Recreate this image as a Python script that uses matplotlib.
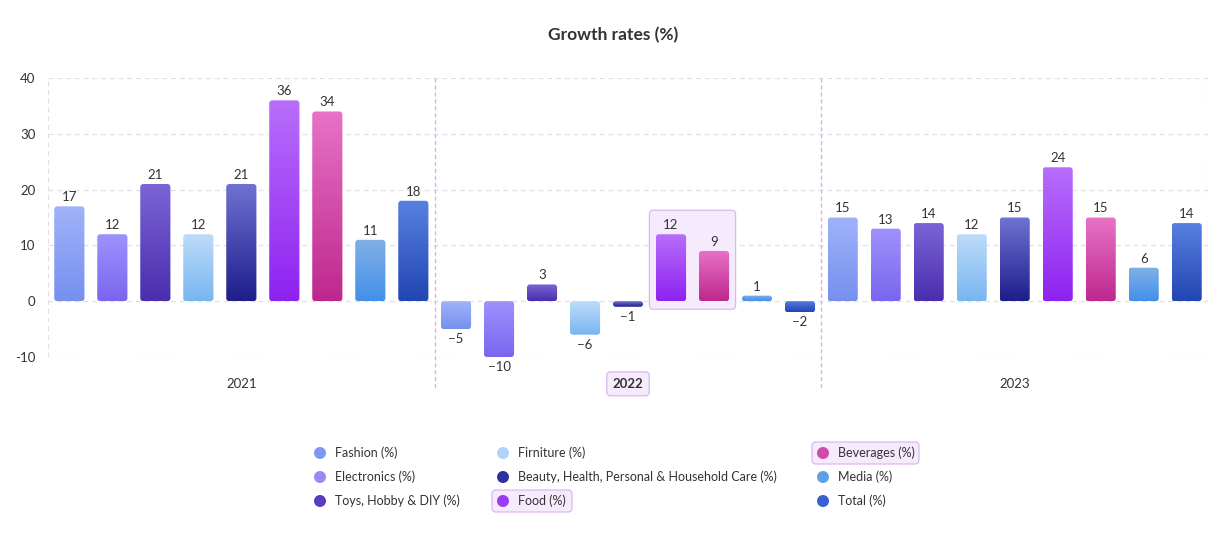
import matplotlib
matplotlib.use("Agg")
import matplotlib.pyplot as plt
import numpy as np
from matplotlib.patches import FancyBboxPatch, Ellipse
from matplotlib.colors import to_rgba

plt.rcParams['font.family'] = ['Lato', 'DejaVu Sans']

years = ["2021", "2022", "2023"]
series = ["Fashion (%)", "Electronics (%)", "Toys, Hobby & DIY (%)", "Firniture (%)",
          "Beauty, Health, Personal & Household Care (%)", "Food (%)", "Beverages (%)",
          "Media (%)", "Total (%)"]
values = [
    [17, -5, 15],
    [12, -10, 13],
    [21, 3, 14],
    [12, -6, 12],
    [21, -1, 15],
    [36, 12, 24],
    [34, 9, 15],
    [11, 1, 6],
    [18, -2, 14],
]
top_colors = ["#a0b2fa", "#9e92fd", "#7b64d6", "#bddcf9", "#6f72d2", "#b86efc", "#e772c6", "#82b0e6", "#5880e2"]
bot_colors = ["#7690ee", "#7a66ee", "#4a2eae", "#78b6f0", "#1e1e8c", "#8e22f0", "#be288e", "#4390ea", "#2246b2"]
legend_colors = ["#7e98f0", "#9888f8", "#5a3cc0", "#b0d4f8", "#2e30a0", "#9b3cf4", "#d04aa8", "#5ca0e8", "#3a60d0"]
yticks = [-10, 0, 10, 20, 30, 40]

W, H = 1227, 542
fig = plt.figure(figsize=(W / 100, H / 100), dpi=100)
ax_l, ax_r, ax_t, ax_b = 48, 1208, 78, 357
ax = fig.add_axes([ax_l / W, 1 - ax_b / H, (ax_r - ax_l) / W, (ax_b - ax_t) / H])
ax.set_xlim(-0.5, 2.5)
ax.set_ylim(-10, 40)

px_x = 3 / (ax_r - ax_l)
px_y = 50 / (ax_b - ax_t)
asp = px_y / px_x

for s in ax.spines.values():
    s.set_visible(False)
ax.set_yticks(yticks)
ax.set_yticklabels([str(v) for v in yticks])
ax.tick_params(axis='y', length=0, pad=9, labelsize=9.5, labelcolor="#333333")
ax.tick_params(axis='x', length=0, pad=15, labelsize=9.5, labelcolor="#333333")
for v in yticks:
    ax.axhline(v, color="#e2e0e6", lw=0.9, ls=(0, (4, 3)), zorder=0)
for xv in (-0.5, 2.5):
    ax.axvline(xv, color="#e2e0e6", lw=0.9, ls=(0, (4, 3)), zorder=0)

ax.set_xticks(range(len(years)))
ax.set_xticklabels(years)
for i, lab in enumerate(ax.get_xticklabels()):
    if i == 1:
        lab.set_fontweight("bold")
        lab.set_bbox(dict(boxstyle="round,pad=0.45,rounding_size=0.3", fc="#f6eafd", ec="#dcb8f0", lw=0.9))

# dividers
for xv in (0.5, 1.5):
    ax.plot([xv, xv], [40, -10 - 31 * px_y], color="#d9b0ee", lw=1.0, ls=(0, (3, 2)), clip_on=False, zorder=1)

spacing = 0.1112
bw = 0.078

# highlight box around Food and Beverages in 2022
hx0 = 1 + (5 - 4) * spacing - bw / 2 - 6.5 * px_x
hx1 = 1 + (6 - 4) * spacing + bw / 2 + 6.5 * px_x
hbox = FancyBboxPatch((hx0, -1.45), hx1 - hx0, 17.75,
                      boxstyle=f"round,pad=0,rounding_size={4 * px_x}", mutation_aspect=asp,
                      fc="#f6eafd", ec="#dcb8f0", lw=0.9, zorder=1)
ax.add_patch(hbox)

for si, name in enumerate(series):
    c_top = np.array(to_rgba(top_colors[si]))
    c_bot = np.array(to_rgba(bot_colors[si]))
    grad = np.linspace(0, 1, 64)[:, None, None]
    img = c_top[None, None, :] * (1 - grad) + c_bot[None, None, :] * grad
    for yi, v in enumerate(values[si]):
        xc = yi + (si - 4) * spacing
        x0 = xc - bw / 2
        y0 = min(0, v)
        h = abs(v)
        r = min(3 * px_x, bw / 2, (h / asp) / 2)
        patch = FancyBboxPatch((x0, y0), bw, h,
                               boxstyle=f"round,pad=0,rounding_size={r}", mutation_aspect=asp,
                               fc="none", ec="none", zorder=2)
        ax.add_patch(patch)
        im = ax.imshow(img, extent=(x0, x0 + bw, y0, y0 + h), origin="upper",
                       aspect="auto", zorder=2, interpolation="bilinear")
        im.set_clip_path(patch)
        if v >= 0:
            ax.text(xc, v + 9 * px_y, str(v), ha="center", va="center", fontsize=9.5, color="#333333", zorder=3)
        else:
            ax.text(xc, v - 10 * px_y, str(v).replace("-", "\u2212"), ha="center", va="center",
                    fontsize=9.5, color="#333333", zorder=3)

ax.set_xlim(-0.5, 2.5)
ax.set_ylim(-10, 40)

fig.text(613 / W, 1 - 35 / H, "Growth rates (%)", ha="center", va="center", fontsize=12.5,
         fontweight="bold", color="#333333")

# legend
col_x = [320, 503, 823]
row_y = [453, 477, 501]
highlight = {5, 6}
for si, name in enumerate(series):
    col, row = divmod(si, 3)
    mx, my = col_x[col], row_y[row]
    if si in highlight:
        tw = {5: 80, 6: 107}[si]
        box = FancyBboxPatch(((mx - 11) / W, 1 - (my + 11) / H), tw / W, 22 / H,
                             boxstyle=f"round,pad=0,rounding_size={4 / W}", mutation_aspect=W / H,
                             transform=fig.transFigure, fc="#f6eafd", ec="#dcb8f0", lw=0.9)
        fig.patches.append(box)
    fig.patches.append(Ellipse((mx / W, 1 - my / H), 12 / W, 12 / H, transform=fig.transFigure,
                               fc=legend_colors[si], ec="none"))
    fig.text((mx + 15) / W, 1 - my / H, name, ha="left", va="center", fontsize=9, color="#333333")

fig.savefig("out.png", dpi=100)
